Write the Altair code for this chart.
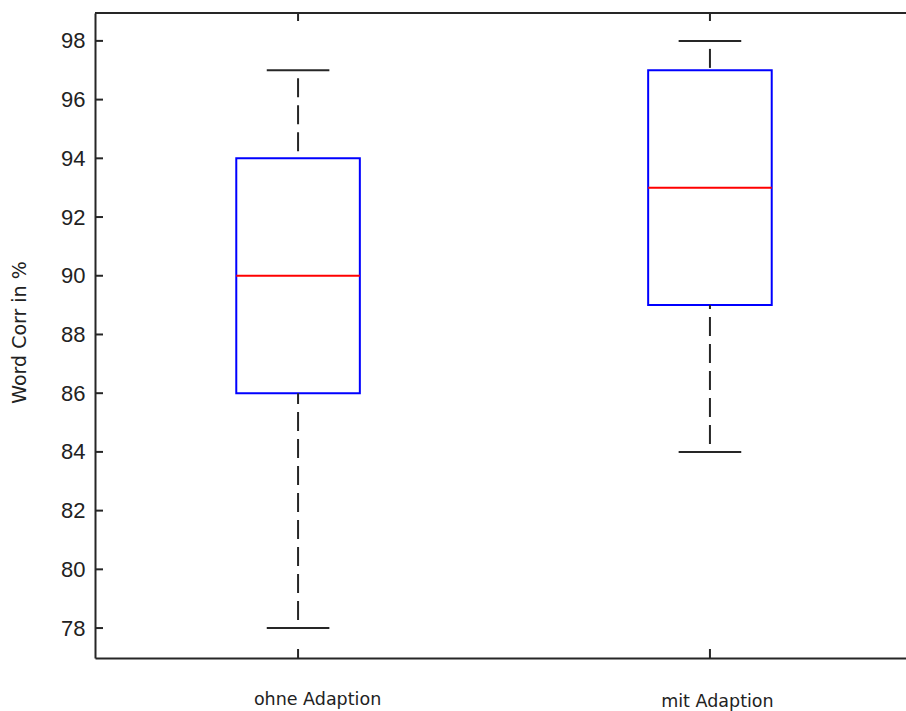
import altair as alt
import pandas as pd

# Word correctness with and without speaker adaption
groups = ["ohne Adaption", "mit Adaption"]
positions = [1, 2]
lower_whisker = [78, 84]
q1 = [86, 89]
median = [90, 93]
q3 = [94, 97]
upper_whisker = [97, 98]

y_ticks = [78, 80, 82, 84, 86, 88, 90, 92, 94, 96, 98]

W, H = 811, 645
BOX_HALF = 0.15
CAP_HALF = 0.076
LINE = "#262626"

df = pd.DataFrame({
    "group": groups,
    "pos": positions,
    "lo": lower_whisker,
    "q1": q1,
    "med": median,
    "q3": q3,
    "hi": upper_whisker,
})
ticks_df = pd.DataFrame({"v": y_ticks})

xscale = alt.Scale(domain=[0.507, 2.476], nice=False, zero=False)
yscale = alt.Scale(domain=[76.98, 98.95], nice=False, zero=False)

label_expr = " : ".join(
    f"datum.value == {p} ? '{g}'" for p, g in zip(positions[:-1], groups[:-1])
) + f" : '{groups[-1]}'"

x_axis = alt.Axis(
    values=positions,
    labelExpr=label_expr,
    title=None,
    grid=False,
    ticks=False,
    tickSize=0,
    domainColor=LINE,
    domainWidth=2,
    labelFont="DejaVu Sans",
    labelFontSize=17.5,
    labelColor="#222222",
    labelBaseline="alphabetic",
    labelOffset=alt.ExprRef("datum.value == 1 ? 19 : 7"),
    labelPadding=alt.ExprRef("datum.value == 1 ? 46 : 48"),
    labelFlush=False,
    labelOverlap=False,
)

y_axis = alt.Axis(
    values=y_ticks,
    title="Word Corr in %",
    titleX=-70,
    titleY=319,
    titleAngle=270,
    titleAlign="center",
    titleBaseline="alphabetic",
    titleFont="DejaVu Sans",
    titleFontSize=19,
    titleFontWeight="normal",
    titleColor="#222222",
    grid=False,
    ticks=False,
    tickSize=0,
    domainColor=LINE,
    domainWidth=2,
    labelFont="Liberation Sans",
    labelFontSize=22,
    labelColor="#222222",
    labelPadding=10,
    labelBaseline="middle",
    labelFlush=False,
    labelOverlap=False,
)

base = alt.Chart(df).transform_calculate(
    xl=f"datum.pos - {BOX_HALF}",
    xr=f"datum.pos + {BOX_HALF}",
    cl=f"datum.pos - {CAP_HALF}",
    cr=f"datum.pos + {CAP_HALF}",
)

boxes = base.mark_rect(fillOpacity=0, stroke="#0000FF", strokeWidth=2).encode(
    x=alt.X("xl:Q", scale=xscale, axis=x_axis),
    x2="xr:Q",
    y=alt.Y("q1:Q", scale=yscale, axis=y_axis),
    y2="q3:Q",
)

medians = base.mark_rule(color="#FF0000", strokeWidth=2).encode(
    x="xl:Q", x2="xr:Q", y="med:Q"
)

dash = dict(color=LINE, strokeWidth=2, strokeDash=[19, 8], strokeDashOffset=19)
upper = base.mark_rule(**dash).encode(x="pos:Q", y="hi:Q", y2="q3:Q")
lower = base.mark_rule(**dash).encode(x="pos:Q", y="lo:Q", y2="q1:Q")

cap_style = dict(color=LINE, strokeWidth=2)
cap_hi = base.mark_rule(**cap_style).encode(x="cl:Q", x2="cr:Q", y="hi:Q")
cap_lo = base.mark_rule(**cap_style).encode(x="cl:Q", x2="cr:Q", y="lo:Q")

# inward-pointing ticks and the top frame line
y_tick_marks = alt.Chart(ticks_df).mark_rule(color=LINE, strokeWidth=2).encode(
    y="v:Q", x=alt.value(0), x2=alt.value(8)
)
x_ticks_bottom = base.mark_rule(color=LINE, strokeWidth=2).encode(
    x="pos:Q", y=alt.value(H), y2=alt.value(H - 9)
)
x_ticks_top = base.mark_rule(color=LINE, strokeWidth=2).encode(
    x="pos:Q", y=alt.value(0), y2=alt.value(8)
)
top_frame = base.mark_rule(color=LINE, strokeWidth=2).encode(
    x=alt.value(0), x2=alt.value(W), y=alt.value(0)
)

chart = alt.layer(
    boxes, medians, upper, lower, cap_hi, cap_lo,
    y_tick_marks, x_ticks_bottom, x_ticks_top, top_frame,
).properties(
    width=W,
    height=H,
    background="white",
    padding={"left": 95, "top": 13, "right": 0, "bottom": 53},
    autosize=alt.AutoSizeParams(type="none"),
).configure_view(stroke=None)

chart.save("out.html", embed_options={"renderer": "svg", "actions": False})
